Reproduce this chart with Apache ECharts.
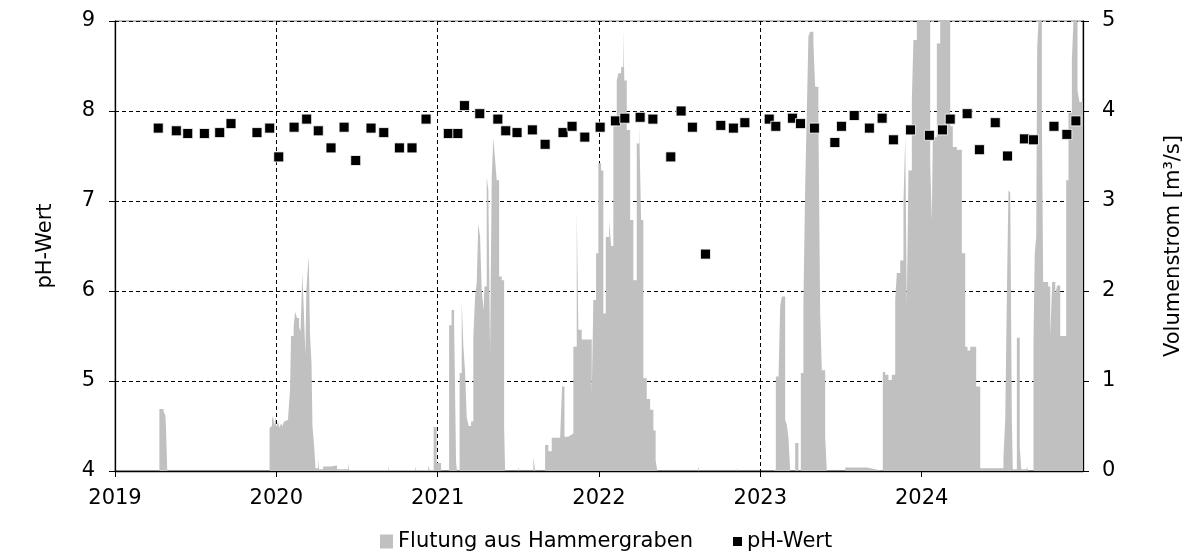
<!DOCTYPE html>
<html><head><meta charset="utf-8">
<script src="https://cdn.jsdelivr.net/npm/echarts/dist/echarts.min.js"></script>
<style>html,body{margin:0;padding:0;background:#fff}#c{width:1192px;height:552px}</style>
</head><body><div id="c"></div>
<script>
// pH samples: decimal year, pH
const phYears = [2019.268,2019.380,2019.451,2019.554,2019.649,2019.719,2019.880,2019.959,
2020.015,2020.110,2020.188,2020.260,2020.339,2020.420,2020.492,2020.587,2020.666,2020.763,2020.841,2020.928,
2021.066,2021.125,2021.166,2021.261,2021.373,2021.422,2021.492,2021.587,2021.666,2021.777,2021.833,2021.912,
2022.007,2022.102,2022.160,2022.255,2022.334,2022.445,2022.509,2022.579,2022.660,2022.755,2022.833,2022.904,
2023.055,2023.096,2023.199,2023.249,2023.335,2023.462,2023.503,2023.582,2023.676,2023.755,2023.825,2023.931,
2024.048,2024.129,2024.177,2024.282,2024.358,2024.456,2024.532,2024.637,2024.693,2024.820,2024.900,2024.956];
const phValues = [7.81,7.78,7.75,7.75,7.76,7.86,7.76,7.81,
7.49,7.82,7.91,7.78,7.59,7.82,7.45,7.81,7.76,7.59,7.59,7.91,
7.75,7.75,8.06,7.97,7.91,7.78,7.76,7.79,7.63,7.76,7.83,7.71,
7.82,7.89,7.92,7.93,7.91,7.49,8.00,7.82,6.41,7.84,7.81,7.87,
7.91,7.83,7.92,7.86,7.81,7.65,7.83,7.95,7.81,7.92,7.68,7.79,
7.73,7.79,7.91,7.97,7.57,7.87,7.50,7.69,7.68,7.83,7.74,7.89];

// Flow (Flutung aus Hammergraben), m3/s, value holds from the given decimal year onward
const flowYears = [2019.000,2019.275,2019.301,2019.312,2019.316,2019.324,
2019.958,2019.967,2019.973,2019.980,2019.986,2019.995,2020.001,2020.011,2020.020,2020.029,2020.038,2020.048,2020.060,2020.073,
2020.085,2020.091,2020.107,2020.116,2020.128,2020.141,2020.150,2020.156,2020.161,2020.169,2020.180,2020.186,2020.193,2020.201,
2020.209,2020.218,2020.224,2020.231,2020.237,2020.243,2020.259,2020.265,2020.290,2020.333,2020.376,2020.445,2020.451,
2020.693,2020.699,2020.860,2020.866,2020.941,2020.950,2020.975,2020.994,
2021.021,2021.071,2021.086,2021.102,2021.114,2021.120,2021.136,2021.149,2021.159,2021.170,2021.180,2021.192,2021.207,
2021.221,2021.232,2021.242,2021.252,2021.263,2021.273,2021.285,2021.290,2021.304,2021.314,2021.325,2021.335,2021.345,
2021.356,2021.366,2021.381,2021.397,2021.412,2021.418,2021.499,2021.505,2021.593,2021.604,
2021.666,2021.686,2021.707,2021.759,2021.771,2021.786,2021.808,2021.827,2021.841,2021.862,2021.872,2021.893,2021.955,
2021.965,2021.982,2021.996,2022.013,2022.027,2022.042,2022.063,2022.075,2022.089,2022.110,2022.120,2022.137,2022.151,
2022.157,2022.172,2022.193,2022.213,2022.234,2022.249,2022.261,2022.275,2022.296,2022.317,2022.337,2022.351,2022.362,
2022.614,2022.621,2022.856,2022.862,
2023.081,2023.096,2023.112,2023.123,2023.133,2023.154,2023.164,2023.174,2023.185,2023.216,2023.236,2023.251,2023.267,
2023.278,2023.288,2023.298,2023.309,2023.329,2023.340,2023.360,2023.371,2023.381,2023.402,2023.412,2023.526,2023.662,2023.712,
2023.759,2023.774,2023.794,2023.815,2023.836,2023.846,2023.867,2023.887,2023.898,2023.908,2023.918,2023.939,2023.949,2023.970,
2024.053,2024.063,2024.069,2024.094,2024.115,2024.177,2024.193,2024.218,2024.249,2024.270,2024.284,2024.301,2024.338,2024.363,
2024.507,2024.518,2024.528,2024.538,2024.549,2024.559,2024.565,2024.590,2024.608,2024.617,2024.652,2024.662,
2024.693,2024.701,2024.710,2024.716,2024.724,2024.745,2024.753,2024.784,2024.797,2024.809,2024.828,2024.840,2024.859,
2024.896,2024.910,2024.931,2024.941,2024.966,2024.978,2025.000];
const flowValues = [0,0.69,0.66,0.62,0.48,0,
0.48,0.50,0.57,0.62,0.50,0.60,0.48,0.55,0.48,0.53,0.50,0.55,0.57,0.60,
0.90,1.50,1.60,1.77,1.70,1.60,1.55,1.90,2.20,1.85,1.30,2.00,2.20,2.39,
1.50,1.20,0.50,0.35,0.20,0.03,0.14,0.02,0.05,0.06,0.02,0.10,0.01,
0.05,0.01,0.05,0.01,0.06,0.01,0.49,0.09,
0,1.62,1.79,1.64,0.10,0,1.09,1.88,1.40,1.10,0.60,0.50,0.55,
1.49,1.94,2.09,2.75,2.60,2.01,1.79,2.05,3.27,3.12,1.31,3.27,3.70,
3.46,3.23,2.16,2.12,0.49,0,0.05,0,0.16,0,
0.29,0.22,0.37,0.38,0.94,0.38,0.40,0.42,1.38,2.90,1.57,1.46,0.83,
1.90,2.42,3.42,3.34,1.75,2.60,2.79,2.50,3.83,4.34,4.42,4.49,4.90,
4.34,3.79,2.79,2.12,3.64,3.86,2.79,1.03,0.80,0.68,0.45,0.12,0,
0.05,0,0.04,0,
0.02,1.05,0.98,1.83,1.94,0.57,0.51,0.38,0,0.31,0,1.09,1.87,
3.16,3.98,4.83,4.88,4.75,4.27,3.90,1.75,1.12,0.38,0,0.04,0.02,0,
1.10,1.07,1.01,1.07,1.90,2.20,2.34,2.97,3.71,1.83,3.34,4.12,4.79,5,
3.42,2.79,3.71,4.75,5,3.83,3.60,3.57,2.42,1.38,1.34,1.38,0.94,0.03,
0.16,0.57,1.94,3.12,3.09,0.57,0.02,1.48,0.27,0.02,0.05,0,
1.45,2.42,2.60,4.70,5,4.00,2.10,2.05,1.49,2.10,1.97,2.06,1.50,
3.23,3.98,4.57,5,4.23,4.10,4.10];

const FONT = 'DejaVu Sans, Liberation Sans, Arial, sans-serif';
const txt = {color:'#000', fontFamily: FONT, fontSize: 21};

const chart = echarts.init(document.getElementById('c'), null, {renderer:'canvas'});
chart.setOption({
  animation:false,
  backgroundColor:'#fff',
  grid:{left:115, right:109, top:21, bottom:81, show:true, borderColor:'#7f7f7f', borderWidth:1,
        containLabel:false, outerBoundsMode:'none'},
  xAxis:{type:'value', min:2019, max:2025, interval:1,
    axisLine:{show:true, onZero:false, lineStyle:{color:'#000', width:1.3}},
    axisTick:{show:true, length:6, lineStyle:{color:'#000'}},
    axisLabel:Object.assign({margin:17, showMaxLabel:false, formatter:v=>String(v)}, txt),
    splitLine:{show:true, lineStyle:{color:'#000', type:[4,3], width:1}}},
  yAxis:[
    {type:'value', min:4, max:9, interval:1, position:'left',
     name:'pH-Wert', nameLocation:'middle', nameGap:59, nameRotate:90, nameTextStyle:txt,
     axisLine:{show:true, lineStyle:{color:'#000', width:1.3}},
     axisTick:{show:true, length:6, lineStyle:{color:'#000'}},
     axisLabel:Object.assign({margin:20}, txt),
     splitLine:{show:true, lineStyle:{color:'#000', type:[4,3], width:1}}},
    {type:'value', min:0, max:5, interval:1, position:'right',
     name:'Volumenstrom [m³/s]', nameLocation:'middle', nameGap:80, nameRotate:90, nameTextStyle:txt,
     axisLine:{show:true, lineStyle:{color:'#000', width:1.3}},
     axisTick:{show:true, length:6, lineStyle:{color:'#000'}},
     axisLabel:Object.assign({margin:19}, txt),
     splitLine:{show:false}}
  ],
  legend:[
    {left:375, top:526, itemWidth:13, itemHeight:14, itemGap:10, textStyle:txt,
     data:[{name:'Flutung aus Hammergraben', icon:'rect', itemStyle:{color:'#c0c0c0'}}]},
    {left:728, top:526, itemWidth:9, itemHeight:9, textStyle:txt,
     data:[{name:'pH-Wert', icon:'rect', itemStyle:{color:'#000', borderWidth:0}}]}
  ],
  series:[
    {name:'Flutung aus Hammergraben', type:'line', yAxisIndex:1, step:'end', symbol:'none',
     lineStyle:{width:0, opacity:0}, areaStyle:{color:'#c0c0c0', opacity:1}, itemStyle:{color:'#c0c0c0'},
     data:flowYears.map((x,i)=>[x, flowValues[i]]), z:1, clip:true},
    {name:'pH-Wert', type:'scatter', yAxisIndex:0, symbol:'rect', symbolSize:10,
     itemStyle:{color:'#000', borderColor:'#fff', borderWidth:0.8, opacity:1},
     data:phYears.map((x,i)=>[x, phValues[i]]), z:3}
  ]
});
</script></body></html>
